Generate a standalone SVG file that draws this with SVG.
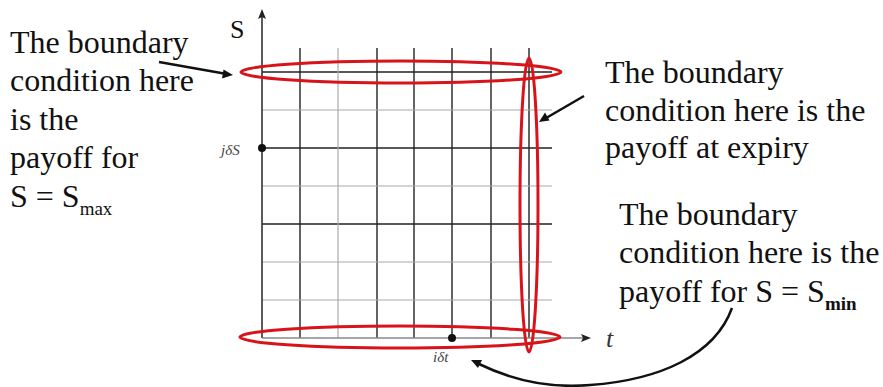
<svg xmlns="http://www.w3.org/2000/svg" width="883" height="387" viewBox="0 0 883 387">
<rect width="883" height="387" fill="#fff"/>
<g id="grid">
<g stroke="#222" stroke-width="1.4">
<line x1="300" y1="48" x2="300" y2="338"/>
<line x1="377" y1="48" x2="377" y2="338"/>
<line x1="414" y1="48" x2="414" y2="338"/>
<line x1="452" y1="48" x2="452" y2="338"/>
<line x1="491" y1="48" x2="491" y2="338"/>
<line x1="529" y1="48" x2="529" y2="338"/>
<line x1="262" y1="72" x2="552" y2="72"/>
<line x1="262" y1="148" x2="552" y2="148"/>
<line x1="262" y1="224" x2="552" y2="224"/>
</g>
<g stroke="#aaa" stroke-width="1.2">
<line x1="338" y1="48" x2="338" y2="338"/>
<line x1="262" y1="110" x2="552" y2="110"/>
<line x1="262" y1="186" x2="552" y2="186"/>
<line x1="262" y1="262" x2="552" y2="262"/>
<line x1="262" y1="300" x2="552" y2="300"/>
</g>
</g>
<g id="note-left" fill="#111" font-family="Times New Roman, Liberation Serif, serif" font-size="32">
<text x="10" y="53">The boundary</text>
<text x="10" y="91">condition here</text>
<text x="10" y="130">is the</text>
<text x="10" y="168">payoff for</text>
<text x="10" y="207">S = S<tspan font-size="19" dy="8">max</tspan></text>
</g>
<g id="note-right-top" fill="#111" font-family="Times New Roman, Liberation Serif, serif" font-size="32">
<text x="605" y="83">The boundary</text>
<text x="605" y="121">condition here is the</text>
<text x="605" y="158">payoff at expiry</text>
</g>
<g id="note-right-bottom" fill="#111" font-family="Times New Roman, Liberation Serif, serif" font-size="32">
<text x="619" y="225">The boundary</text>
<text x="619" y="263">condition here is the</text>
<text x="619" y="302">payoff for S = S<tspan font-size="19" font-weight="bold" dy="8">min</tspan></text>
</g>
<g id="axes" font-family="Times New Roman, Liberation Serif, serif">
<line x1="262" y1="338" x2="262" y2="14" stroke="#333" stroke-width="1.6"/>
<polygon points="262,9 266,19 262,17 258,19" fill="#222"/>
<line x1="262" y1="338" x2="586" y2="338" stroke="#888" stroke-width="1.6"/>
<polygon points="591,338 581,342 583,338 581,334" fill="#222"/>
<text x="230" y="38" font-size="26" fill="#111">S</text>
<text x="606" y="347" font-size="26" font-style="italic" fill="#333">t</text>
<circle cx="262" cy="148" r="4" fill="#111"/>
<text x="221" y="155" font-size="15" font-style="italic" fill="#444">jδS</text>
<circle cx="452" cy="338" r="4" fill="#111"/>
<text x="433" y="362" font-size="15" font-style="italic" fill="#444">iδt</text>
</g>
<g fill="none" stroke="#d8141a" stroke-width="3">
<g id="ring-top"><ellipse cx="401" cy="72" rx="160" ry="11"/></g>
<g id="ring-bottom"><ellipse cx="400" cy="337" rx="160" ry="11"/></g>
<g id="ring-right"><ellipse cx="529" cy="205" rx="9" ry="147"/></g>
</g>
<g id="connectors">
<line x1="159" y1="62" x2="224" y2="73.5" stroke="#111" stroke-width="2.5"/>
<polygon points="233,75 222,78.5 223.5,69.5" fill="#111"/>
<line x1="584" y1="96" x2="547" y2="117.5" stroke="#111" stroke-width="2.5"/>
<polygon points="539,122 545,112.5 549.5,120.5" fill="#111"/>
<path d="M732,308 C715,355 660,380 590,385 C545,389 510,379 479,364" fill="none" stroke="#111" stroke-width="2.5"/>
<polygon points="471,360 482,360 478,368" fill="#111"/>
</g>
</svg>
